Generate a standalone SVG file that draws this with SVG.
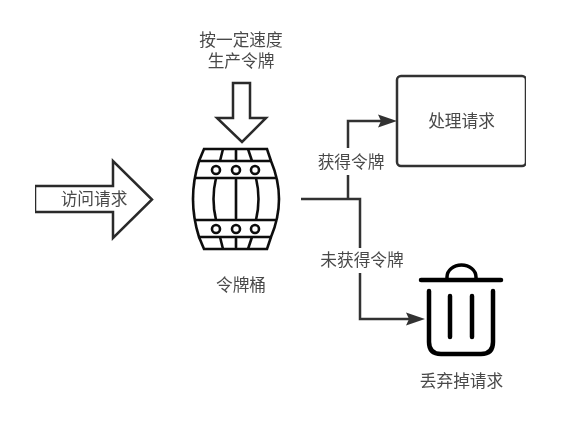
<svg xmlns="http://www.w3.org/2000/svg" width="574" height="422" viewBox="0 0 574 422">
<style>
text{font-family:"Noto Sans CJK SC","Liberation Sans",sans-serif;font-size:16.700px;fill:#4a4a4a;text-anchor:middle}
.o{fill:#fff;stroke:#2a2a2a;stroke-width:2.500;stroke-linejoin:miter}
.b{fill:none;stroke:#111;stroke-width:2.600}
.t{fill:none;stroke:#000;stroke-width:4.500;stroke-linecap:round}
.c{fill:none;stroke:#333;stroke-width:2.500}
.h{fill:#333}
.m{fill:#fff}
</style>
<defs>
<filter id="soft" x="0" y="0" width="100%" height="100%"><feGaussianBlur stdDeviation="0.45"/></filter>
</defs>
<rect width="574" height="422" fill="#fff"/>
<g filter="url(#soft)">
<g id="connectors">
<path class="c" d="M301 199H360V319H414"/>
<path class="c" d="M348 199V121H386"/>
<path class="h" d="M397 121L378 114.500L381 121L378 127.500Z"/>
<path class="h" d="M425 319L406 312.500L409 319L406 325.500Z"/>
<rect class="m" x="316" y="148" width="70" height="27"/>
<rect class="m" x="318" y="248" width="88" height="25"/>
</g>
<g id="label-get"><text x="351" y="168">获得令牌</text></g>
<g id="label-noget"><text x="362" y="266">未获得令牌</text></g>
<g id="request-arrow">
<path class="o" d="M35 186H113V161L152 199.500L113 238V212H35Z"/>
<text x="94" y="205">访问请求</text>
</g>
<g id="token-arrow">
<path class="o" d="M233 83H250V118H266L242 142L217 118H233Z"/>
</g>
<g id="token-rate-label">
<text x="241"><tspan x="241" y="46">按一定速度</tspan><tspan x="241" y="67">生产令牌</tspan></text>
</g>
<g id="bucket">
<path class="b" d="M204 149H267L271 161Q279 180 279 199Q279 218 271 237L267 249H204L199 237Q193 218 193 199Q193 180 199 161Z"/>
<path class="b" d="M198 161H272M195 178H276M195 220H276M198 237H272"/>
<path class="b" d="M236 178V220M216 178Q211 199 216 220M256 178Q261 199 256 220"/>
<path class="b" d="M223 149L220 161M236 149V161M248 149L252 161M220 237L223 249M236 237V249M252 237L248 249"/>
<circle class="b" cx="216" cy="170" r="4"/>
<circle class="b" cx="236" cy="170" r="4"/>
<circle class="b" cx="255" cy="170" r="4"/>
<circle class="b" cx="216" cy="229" r="4"/>
<circle class="b" cx="236" cy="229" r="4"/>
<circle class="b" cx="255" cy="229" r="4"/>
</g>
<g id="bucket-label"><text x="241" y="291">令牌桶</text></g>
<g id="process">
<rect x="397" y="76" width="129" height="90" rx="4" fill="#fff" stroke="#333" stroke-width="2.500"/>
<text x="461.500" y="127">处理请求</text>
</g>
<g id="trash">
<path class="t" d="M421 280H501"/>
<path fill="none" stroke="#000" stroke-width="3.500" d="M447 279V277A14.500 12 0 0 1 476 277V279"/>
<path class="t" d="M429 291V342Q429 354 441 354H481Q493 354 493 342V291"/>
<path class="t" d="M450 296V337M472 296V337"/>
</g>
<g id="trash-label"><text x="461.500" y="387">丢弃掉请求</text></g>
</g>
</svg>
